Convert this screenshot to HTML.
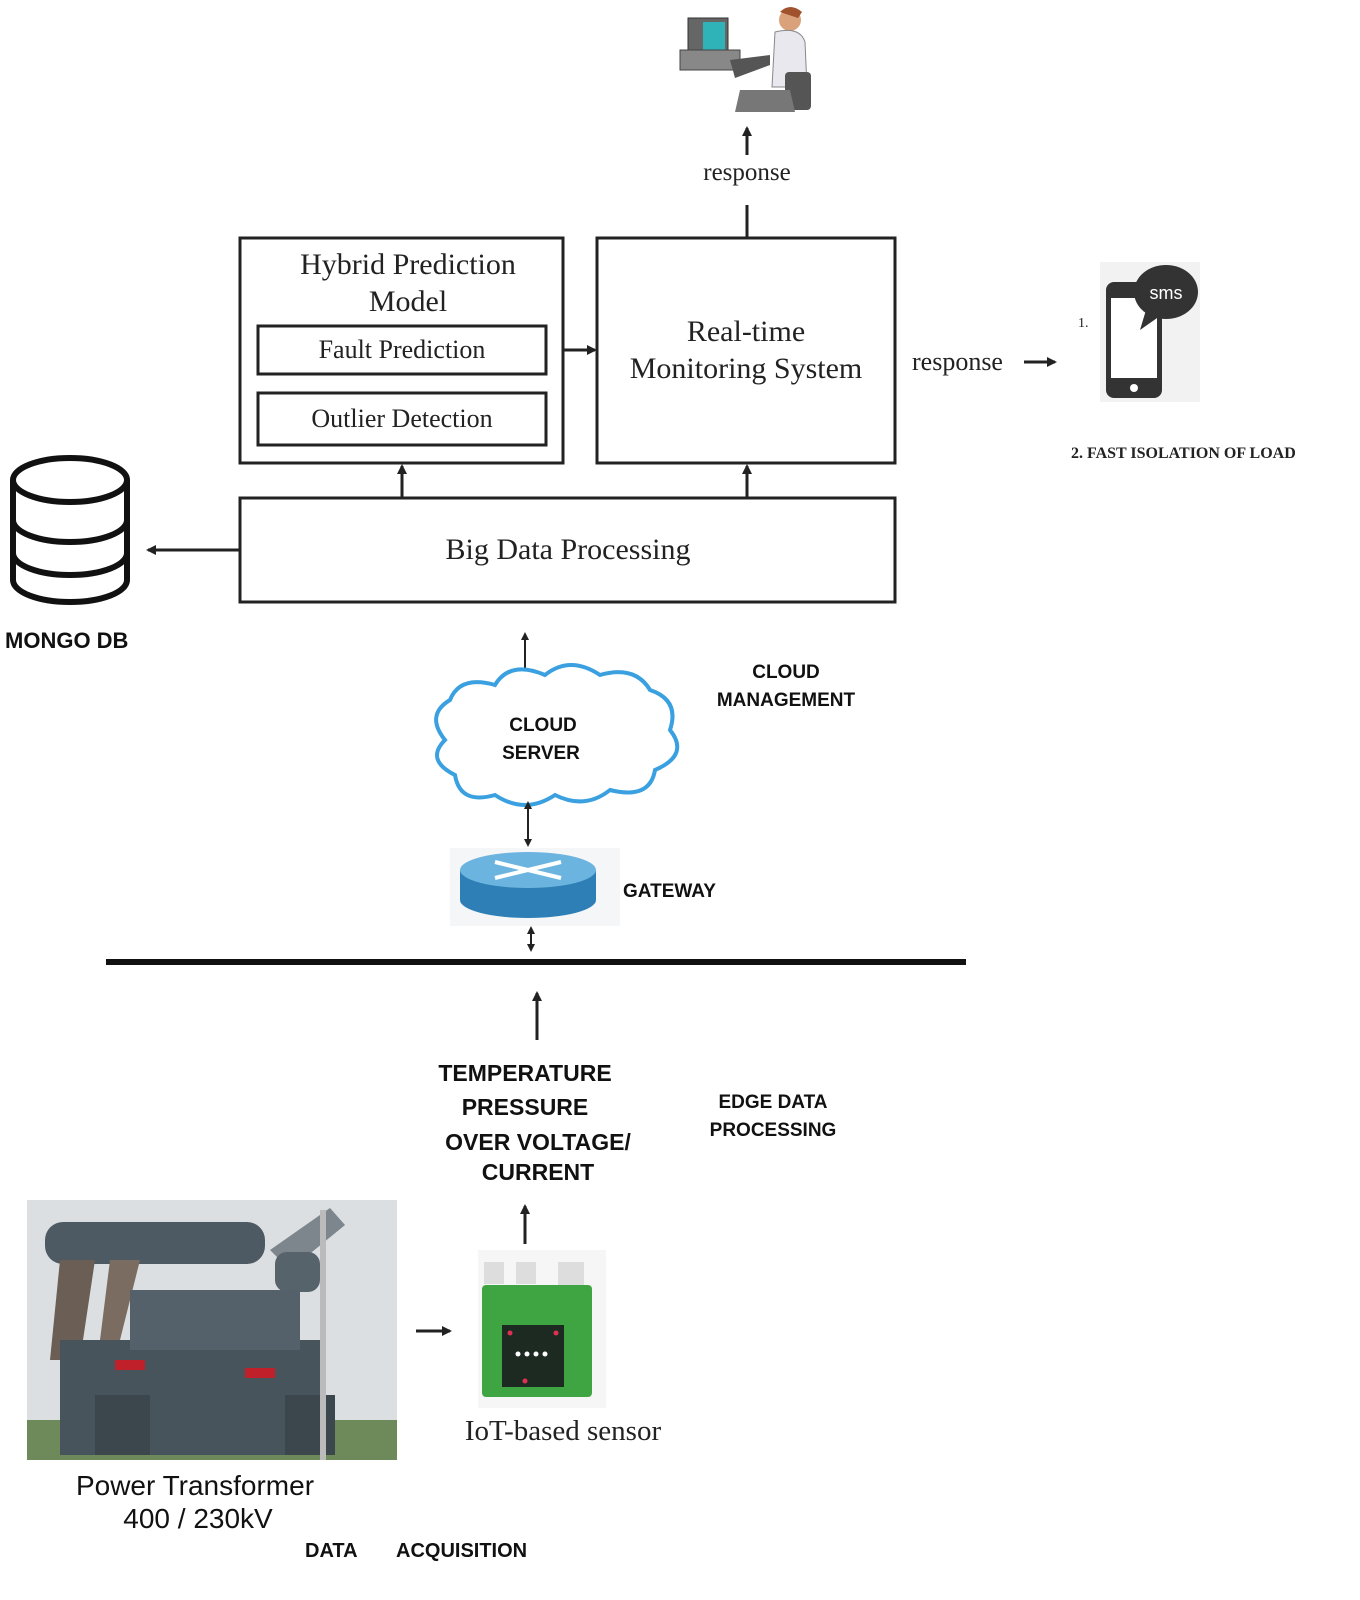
<!DOCTYPE html>
<html><head><meta charset="utf-8"><style>
html,body{margin:0;padding:0;background:#fff}
svg{display:block}
.s{font-family:"Liberation Serif",serif;fill:#222}
.b{font-family:"Liberation Sans",sans-serif;font-weight:bold;fill:#111}
</style></head><body>
<svg width="1360" height="1600" viewBox="0 0 1360 1600" xmlns="http://www.w3.org/2000/svg">
<defs><marker id="a" markerWidth="10" markerHeight="10" refX="8" refY="5" orient="auto" markerUnits="userSpaceOnUse"><path d="M0,0 L10,5 L0,10 z" fill="#222"/></marker>
<marker id="as" markerWidth="8" markerHeight="8" refX="6" refY="4" orient="auto-start-reverse" markerUnits="userSpaceOnUse"><path d="M0,0 L8,4 L0,8 z" fill="#222"/></marker></defs>

<!-- person at computer -->
<g>
<rect x="688" y="18" width="40" height="38" fill="#666" stroke="#333"/>
<rect x="703" y="22" width="22" height="28" fill="#2fb3b8"/>
<rect x="680" y="50" width="60" height="20" fill="#888" stroke="#444"/>
<polygon points="730,60 770,55 770,65 735,78" fill="#555"/>
<circle cx="790" cy="20" r="11" fill="#d9a27a"/>
<path d="M780,12 q10,-10 22,0 l-4,6 z" fill="#a0522d"/>
<path d="M775,32 q25,-6 30,10 l2,45 l-35,0 z" fill="#e8e8ee" stroke="#888"/>
<rect x="785" y="72" width="26" height="38" fill="#555" rx="4"/>
<path d="M740,90 l50,0 l5,22 l-60,0 z" fill="#777"/>
</g>
<line x1="747" y1="155" x2="747" y2="128" stroke="#222" stroke-width="3" marker-end="url(#a)"/>
<text x="747" y="180" class="s" font-size="25" text-anchor="middle">response</text>
<line x1="747" y1="205" x2="747" y2="238" stroke="#222" stroke-width="3"/>

<!-- Hybrid box -->
<rect x="240" y="238" width="323" height="225" fill="none" stroke="#222" stroke-width="3"/>
<text x="408" y="274" class="s" font-size="30" text-anchor="middle">Hybrid Prediction</text>
<text x="408" y="311" class="s" font-size="30" text-anchor="middle">Model</text>
<rect x="258" y="326" width="288" height="48" fill="none" stroke="#222" stroke-width="3"/>
<text x="402" y="358" class="s" font-size="26" text-anchor="middle">Fault Prediction</text>
<rect x="258" y="393" width="288" height="52" fill="none" stroke="#222" stroke-width="3"/>
<text x="402" y="427" class="s" font-size="26" text-anchor="middle">Outlier Detection</text>
<line x1="564" y1="350" x2="595" y2="350" stroke="#222" stroke-width="3" marker-end="url(#a)"/>

<rect x="597" y="238" width="298" height="225" fill="none" stroke="#222" stroke-width="3"/>
<text x="746" y="341" class="s" font-size="30" text-anchor="middle">Real-time</text>
<text x="746" y="378" class="s" font-size="30" text-anchor="middle">Monitoring System</text>
<text x="912" y="370" class="s" font-size="26">response</text>
<line x1="1024" y1="362" x2="1055" y2="362" stroke="#222" stroke-width="3" marker-end="url(#a)"/>

<!-- phone -->
<rect x="1100" y="262" width="100" height="140" fill="#f2f2f2"/>
<rect x="1106" y="282" width="56" height="116" rx="8" fill="#333"/>
<rect x="1111" y="298" width="46" height="80" fill="#fff"/>
<circle cx="1134" cy="388" r="4" fill="#fff"/>
<ellipse cx="1166" cy="292" rx="32" ry="27" fill="#333"/>
<polygon points="1146,310 1140,330 1160,316" fill="#333"/>
<text x="1166" y="299" font-family="Liberation Sans,sans-serif" font-size="18" fill="#fff" text-anchor="middle">sms</text>
<text x="1078" y="327" class="s" font-size="14">1.</text>
<text x="1071" y="458" class="s" font-size="16" font-weight="bold">2. FAST ISOLATION OF LOAD</text>

<line x1="402" y1="498" x2="402" y2="466" stroke="#222" stroke-width="3" marker-end="url(#a)"/>
<line x1="747" y1="498" x2="747" y2="466" stroke="#222" stroke-width="3" marker-end="url(#a)"/>

<rect x="240" y="498" width="655" height="104" fill="none" stroke="#222" stroke-width="3"/>
<text x="568" y="559" class="s" font-size="30" text-anchor="middle">Big Data Processing</text>
<line x1="240" y1="550" x2="148" y2="550" stroke="#222" stroke-width="3" marker-end="url(#a)"/>

<!-- db -->
<g fill="#fff" stroke="#111" stroke-width="6">
<path d="M13,480 v100 a57,22 0 0 0 114,0 v-100"/>
<ellipse cx="70" cy="480" rx="57" ry="22"/>
<path d="M13,520 a57,22 0 0 0 114,0"/>
<path d="M13,553 a57,22 0 0 0 114,0"/>
</g>
<text x="5" y="648" class="b" font-size="22">MONGO DB</text>

<line x1="525" y1="634" x2="525" y2="676" stroke="#222" stroke-width="2" marker-start="url(#as)" marker-end="url(#as)"/>

<!-- cloud -->
<path d="M450,700 q10,-25 45,-15 q15,-25 50,-10 q25,-20 55,0 q35,-10 50,15 q30,10 20,40 q20,25 -15,40 q-5,30 -45,20 q-25,20 -55,5 q-30,20 -60,0 q-35,10 -40,-20 q-30,-15 -10,-35 q-20,-25 5,-40 z" fill="#fff" stroke="#3aa0e0" stroke-width="4"/>
<text x="543" y="731" class="b" font-size="19" text-anchor="middle">CLOUD</text>
<text x="541" y="759" class="b" font-size="19" text-anchor="middle">SERVER</text>
<text x="786" y="678" class="b" font-size="19" text-anchor="middle">CLOUD</text>
<text x="786" y="706" class="b" font-size="19" text-anchor="middle">MANAGEMENT</text>

<line x1="528" y1="803" x2="528" y2="845" stroke="#222" stroke-width="2" marker-start="url(#as)" marker-end="url(#as)"/>

<!-- router -->
<rect x="450" y="848" width="170" height="78" fill="#f4f6f8"/>
<path d="M460,870 v30 a68,18 0 0 0 136,0 v-30" fill="#2d7fb5"/>
<ellipse cx="528" cy="870" rx="68" ry="18" fill="#6bb4e0"/>
<path d="M495,862 l66,16 M495,878 l66,-16" stroke="#fff" stroke-width="4"/>
<text x="623" y="897" class="b" font-size="19">GATEWAY</text>
<line x1="531" y1="928" x2="531" y2="950" stroke="#222" stroke-width="2" marker-start="url(#as)" marker-end="url(#as)"/>

<line x1="106" y1="962" x2="966" y2="962" stroke="#111" stroke-width="6"/>
<line x1="537" y1="1040" x2="537" y2="993" stroke="#222" stroke-width="3" marker-end="url(#a)"/>

<g class="b" font-size="23" text-anchor="middle">
<text x="525" y="1081">TEMPERATURE</text>
<text x="525" y="1115">PRESSURE</text>
<text x="538" y="1150">OVER VOLTAGE/</text>
<text x="538" y="1180">CURRENT</text>
</g>
<text x="773" y="1108" class="b" font-size="19" text-anchor="middle">EDGE DATA</text>
<text x="773" y="1136" class="b" font-size="19" text-anchor="middle">PROCESSING</text>
<line x1="525" y1="1244" x2="525" y2="1206" stroke="#222" stroke-width="3" marker-end="url(#a)"/>

<!-- transformer -->
<rect x="27" y="1200" width="370" height="260" fill="#dcdfe2"/>
<rect x="27" y="1420" width="370" height="40" fill="#6f8a5a"/>
<rect x="45" y="1222" width="220" height="42" rx="18" fill="#4d5a63"/>
<polygon points="270,1250 330,1208 345,1225 290,1270" fill="#7d868c"/>
<rect x="275" y="1252" width="45" height="40" rx="12" fill="#56636b"/>
<polygon points="60,1260 95,1260 80,1360 50,1360" fill="#6a5e55"/>
<polygon points="110,1260 140,1260 120,1340 100,1340" fill="#7a6c60"/>
<rect x="60" y="1340" width="260" height="115" fill="#48545b"/>
<rect x="130" y="1290" width="170" height="60" fill="#55616a"/>
<rect x="115" y="1360" width="30" height="10" fill="#c0202a"/>
<rect x="245" y="1368" width="30" height="10" fill="#c0202a"/>
<rect x="95" y="1395" width="55" height="60" fill="#3b464d"/>
<rect x="285" y="1395" width="50" height="60" fill="#3b464d"/>
<rect x="320" y="1210" width="6" height="250" fill="#bbb"/>
<text x="195" y="1495" font-family="Liberation Sans,sans-serif" font-size="28" fill="#111" text-anchor="middle">Power Transformer</text>
<text x="198" y="1528" font-family="Liberation Sans,sans-serif" font-size="28" fill="#111" text-anchor="middle">400 / 230kV</text>
<text x="305" y="1557" class="b" font-size="20">DATA</text>
<text x="396" y="1557" class="b" font-size="20">ACQUISITION</text>

<line x1="416" y1="1331" x2="450" y2="1331" stroke="#222" stroke-width="3" marker-end="url(#a)"/>

<!-- sensor -->
<rect x="478" y="1250" width="128" height="158" fill="#f6f6f6"/>
<rect x="484" y="1262" width="20" height="22" fill="#ddd"/>
<rect x="516" y="1262" width="20" height="22" fill="#ddd"/>
<rect x="558" y="1262" width="26" height="30" fill="#ddd"/>
<rect x="482" y="1285" width="110" height="112" rx="4" fill="#3fa542"/>
<rect x="502" y="1325" width="62" height="62" fill="#1d2a22"/>
<g fill="#e03050"><circle cx="510" cy="1333" r="2.5"/><circle cx="556" cy="1333" r="2.5"/><circle cx="525" cy="1381" r="2.5"/></g>
<g fill="#fff"><circle cx="518" cy="1354" r="2.5"/><circle cx="527" cy="1354" r="2.5"/><circle cx="536" cy="1354" r="2.5"/><circle cx="545" cy="1354" r="2.5"/></g>
<text x="563" y="1440" class="s" font-size="29" text-anchor="middle">IoT-based sensor</text>
</svg>
</body></html>
